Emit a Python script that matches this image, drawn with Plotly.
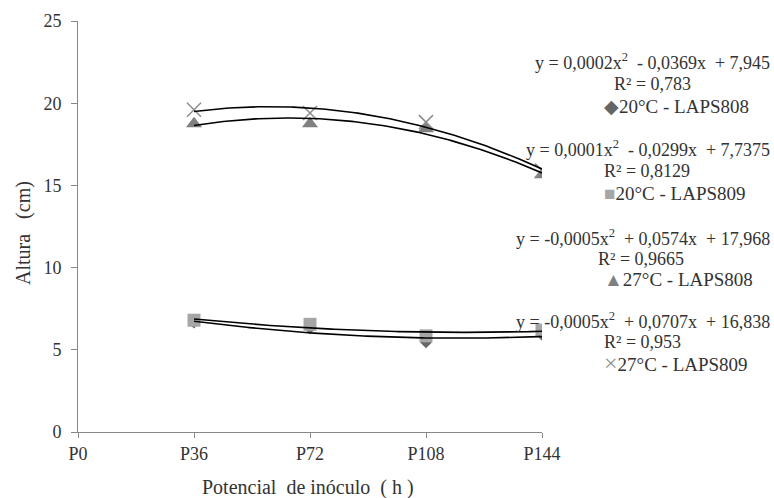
import numpy as np
import plotly.graph_objects as go

# Inoculum potential categories (hours)
categories = ["P0", "P36", "P72", "P108", "P144"]
positions = [0, 1, 2, 3, 4]
data_pos = [1, 2, 3, 4]  # P36 .. P144

# Plant height (cm) per treatment
h_20_808 = [6.65, 6.3, 5.45, 5.9]
h_20_809 = [6.8, 6.55, 5.85, 6.2]
h_27_808 = [18.75, 18.75, 18.45, 15.65]
h_27_809 = [19.6, 19.4, 18.85, 15.9]

# Trendline equations as reported
eq_text = [
    "y = 0,0002x<sup>2</sup>\u00a0 - 0,0369x\u00a0 + 7,945",
    "y = 0,0001x<sup>2</sup>\u00a0 - 0,0299x\u00a0 + 7,7375",
    "y = -0,0005x<sup>2</sup>\u00a0 + 0,0574x\u00a0 + 17,968",
    "y = -0,0005x<sup>2</sup>\u00a0 + 0,0707x\u00a0 + 16,838",
]
r2_text = ["R² = 0,783", "R² = 0,8129", "R² = 0,9665", "R² = 0,953"]
series_names = ["20°C - LAPS808", "20°C - LAPS809", "27°C - LAPS808", "27°C - LAPS809"]

series = [h_20_808, h_20_809, h_27_808, h_27_809]
symbols = ["diamond", "square", "triangle-up", "x-thin"]
colors = ["#666666", "#a6a6a6", "#808080", "#8c8c8c"]
sizes = [9, 13, 14, 14]
glyphs = ["◆", "■", "▲", "<span style='font-size:24px'>×</span>"]

FONT = "Liberation Serif"
TXT = "#333333"

fig = go.Figure()

for vals, sym, col, sz in zip(series, symbols, colors, sizes):
    fig.add_trace(go.Scatter(
        x=data_pos, y=vals, mode="markers",
        marker=dict(symbol=sym, color=col, size=sz,
                    line=dict(color=col, width=1.5 if sym == "x-thin" else 0)),
        showlegend=False, hoverinfo="skip",
    ))

# Second-order polynomial trendlines fitted to each series
xs = np.linspace(1, 4, 120)
for vals in series:
    coef = np.polyfit(data_pos, vals, 2)
    fig.add_trace(go.Scatter(
        x=xs, y=np.polyval(coef, xs), mode="lines",
        line=dict(color="black", width=1.6),
        showlegend=False, hoverinfo="skip",
    ))

# Pixel-to-paper helpers for text placed around the plot area
L, R, T, B = 78, 542, 21, 432
def px(x):
    return (x - L) / (R - L)
def py(y):
    return (B - y) / (B - T)

eq_y = [62, 148, 237, 320]
r2_y = [84, 171, 259, 342]
lg_y = [107, 193, 279, 363]
r2_x = [652, 647, 641, 642]

annotations = []
for i in range(4):
    annotations.append(dict(x=px(772), y=py(eq_y[i]), xref="paper", yref="paper",
                            xanchor="right", yanchor="middle", showarrow=False,
                            text=eq_text[i], font=dict(family=FONT, size=18, color=TXT)))
    annotations.append(dict(x=px(r2_x[i]), y=py(r2_y[i]), xref="paper", yref="paper",
                            xanchor="center", yanchor="middle", showarrow=False,
                            text=r2_text[i], font=dict(family=FONT, size=18, color=TXT)))
    annotations.append(dict(x=px(602), y=py(lg_y[i]), xref="paper", yref="paper",
                            xanchor="left", yanchor="middle", showarrow=False,
                            text=f"<span style='color:{colors[i]}'>{glyphs[i]}</span>{series_names[i]}",
                            font=dict(family=FONT, size=19, color=TXT)))

# Axis titles
annotations.append(dict(x=px(308), y=py(487), xref="paper", yref="paper",
                        xanchor="center", yanchor="middle", showarrow=False,
                        text="Potencial\u00a0 de inóculo\u00a0 ( h )",
                        font=dict(family=FONT, size=20, color=TXT)))
annotations.append(dict(x=px(23), y=py(233), xref="paper", yref="paper",
                        xanchor="center", yanchor="middle", showarrow=False,
                        textangle=-90, text="Altura\u00a0\u00a0 (cm)",
                        font=dict(family=FONT, size=20, color=TXT)))

fig.update_layout(
    width=774, height=498,
    margin=dict(l=L, r=774 - R, t=T, b=498 - B),
    plot_bgcolor="white", paper_bgcolor="white",
    annotations=annotations,
    xaxis=dict(
        range=[0, 4], tickvals=positions, ticktext=categories,
        showgrid=False, zeroline=False, automargin=False,
        showline=True, linecolor="#888888", linewidth=1,
        ticks="outside", ticklen=5, tickcolor="#888888",
        tickfont=dict(family=FONT, size=18, color=TXT),
    ),
    yaxis=dict(
        range=[0, 25], tickvals=[0, 5, 10, 15, 20, 25],
        showgrid=False, zeroline=False, automargin=False,
        showline=True, linecolor="#888888", linewidth=1,
        ticks="outside", ticklen=6, tickcolor="#888888",
        ticklabelstandoff=6,
        tickfont=dict(family=FONT, size=18, color=TXT),
    ),
)

fig.write_html("out.html")
